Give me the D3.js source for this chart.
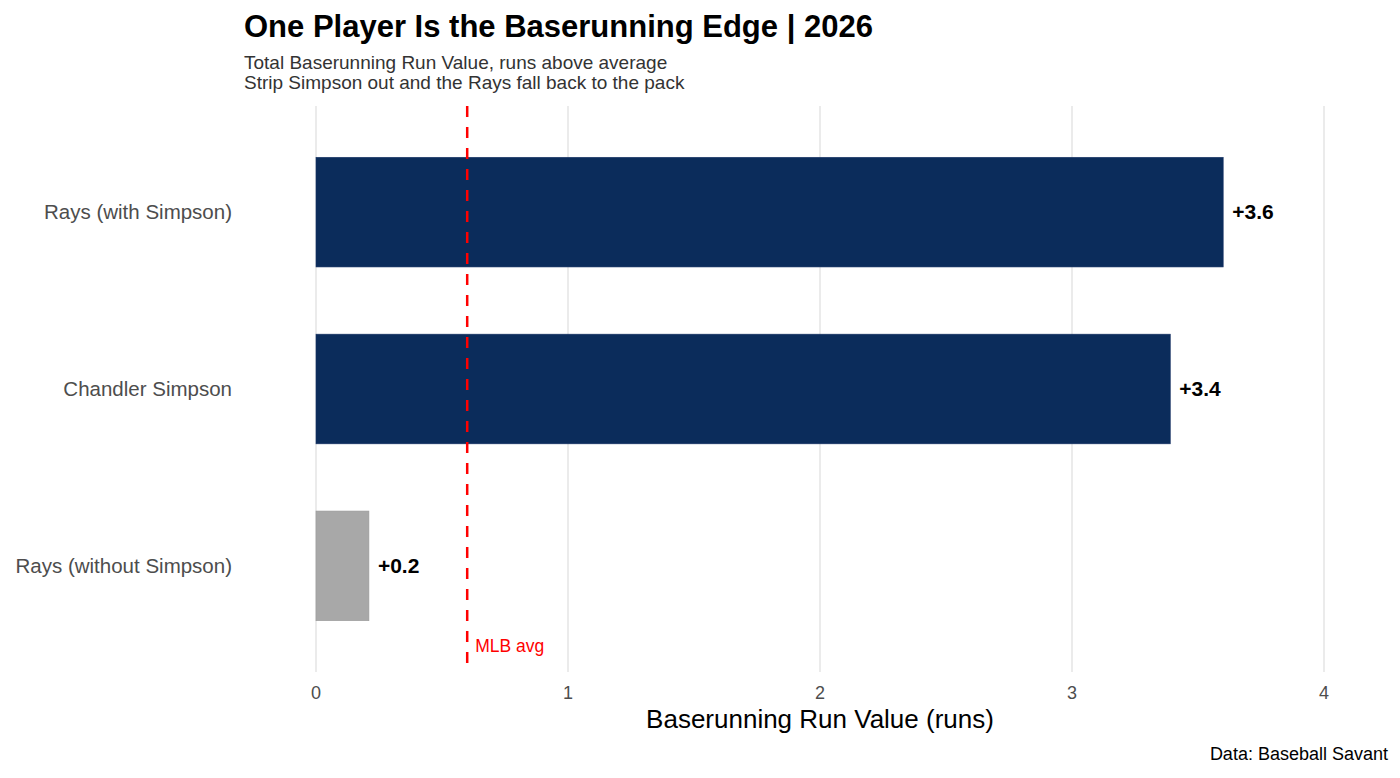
<!DOCTYPE html>
<html>
<head>
<meta charset="utf-8">
<script src="https://cdn.jsdelivr.net/npm/d3@7"></script>
<style>
    body { margin: 0; background: #fff; }
    svg text { font-family: 'Liberation Sans', Arial, sans-serif; }
</style>
</head>
<body>
<svg id="chart"></svg>
<script>
// Data, top to bottom.
const categories = ['Rays (with Simpson)', 'Chandler Simpson', 'Rays (without Simpson)'];
const values = [3.6, 3.39, 0.21];
const valueLabels = ['+3.6', '+3.4', '+0.2'];
const barColors = ['#0B2C5B', '#0B2C5B', '#A8A8A8'];
const xTicks = [0, 1, 2, 3, 4];
const mlbAvg = 0.6;

const width = 1400;
const height = 778;
const margin = { top: 106, right: 76, bottom: 106, left: 316 };

const svg = d3.select('#chart').attr('width', width).attr('height', height);

// X scale.
const x = d3.scaleLinear()
    .domain([0, 4])
    .range([margin.left, width - margin.right]);

// Y scale (discrete, ggplot style expansion of 0.6 units).
const y = d3.scaleBand()
    .domain(categories)
    .range([margin.top, height - margin.bottom])
    .paddingInner(0.38)
    .paddingOuter(0.29);

// Vertical gridlines.
svg.append('g')
    .selectAll('line')
    .data(xTicks)
    .join('line')
    .attr('x1', d => x(d))
    .attr('x2', d => x(d))
    .attr('y1', margin.top)
    .attr('y2', height - margin.bottom)
    .attr('stroke', '#EBEBEB')
    .attr('stroke-width', 2);

// Bars.
svg.append('g')
    .selectAll('rect')
    .data(categories)
    .join('rect')
    .attr('x', x(0))
    .attr('y', d => y(d))
    .attr('width', (d, i) => x(values[i]) - x(0))
    .attr('height', y.bandwidth())
    .attr('fill', (d, i) => barColors[i])
    .attr('stroke', (d, i) => i === 2 ? '#999' : '#1a3566')
    .attr('stroke-width', 0.6);

// Value labels.
svg.append('g')
    .selectAll('text')
    .data(categories)
    .join('text')
    .attr('x', (d, i) => x(values[i]) + 9)
    .attr('y', d => y(d) + y.bandwidth() / 2)
    .attr('dy', '0.35em')
    .attr('font-size', 21)
    .attr('font-weight', 'bold')
    .attr('fill', '#000')
    .text((d, i) => valueLabels[i]);

// MLB average line.
svg.append('line')
    .attr('x1', x(mlbAvg))
    .attr('x2', x(mlbAvg))
    .attr('y1', margin.top)
    .attr('y2', height - margin.bottom)
    .attr('stroke', '#FF0000')
    .attr('stroke-width', 2.5)
    .attr('stroke-dasharray', '11,10');

svg.append('text')
    .attr('x', x(mlbAvg) + 8)
    .attr('y', 652)
    .attr('font-size', 17.5)
    .attr('fill', '#FF0000')
    .text('MLB avg');

// Y-axis labels.
svg.append('g')
    .selectAll('text')
    .data(categories)
    .join('text')
    .attr('x', 232)
    .attr('y', d => y(d) + y.bandwidth() / 2)
    .attr('dy', '0.35em')
    .attr('text-anchor', 'end')
    .attr('font-size', 20.5)
    .attr('fill', '#4D4D4D')
    .text(d => d);

// X-axis tick labels.
svg.append('g')
    .selectAll('text')
    .data(xTicks)
    .join('text')
    .attr('x', d => x(d))
    .attr('y', 699)
    .attr('text-anchor', 'middle')
    .attr('font-size', 18)
    .attr('fill', '#4D4D4D')
    .text(d => d);

// X-axis title.
svg.append('text')
    .attr('x', (x(0) + x(4)) / 2)
    .attr('y', 728)
    .attr('text-anchor', 'middle')
    .attr('font-size', 26)
    .attr('fill', '#000')
    .text('Baserunning Run Value (runs)');

// Title, subtitle and caption.
svg.append('text')
    .attr('x', 244)
    .attr('y', 37)
    .attr('font-size', 31)
    .attr('font-weight', 'bold')
    .attr('fill', '#000')
    .text('One Player Is the Baserunning Edge | 2026');

svg.append('text')
    .attr('x', 244)
    .attr('y', 69)
    .attr('font-size', 19)
    .attr('fill', '#333')
    .text('Total Baserunning Run Value, runs above average');

svg.append('text')
    .attr('x', 244)
    .attr('y', 89)
    .attr('font-size', 19)
    .attr('fill', '#333')
    .text('Strip Simpson out and the Rays fall back to the pack');

svg.append('text')
    .attr('x', 1388)
    .attr('y', 760)
    .attr('text-anchor', 'end')
    .attr('font-size', 18)
    .attr('fill', '#000')
    .text('Data: Baseball Savant');
</script>
</body>
</html>
